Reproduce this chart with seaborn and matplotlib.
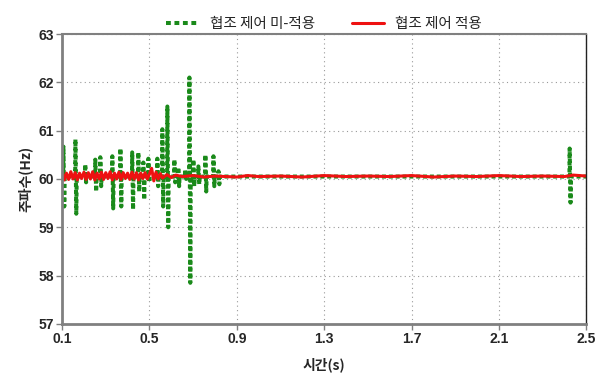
import numpy as np
import pandas as pd
import matplotlib
matplotlib.use("Agg")
import matplotlib.pyplot as plt
import seaborn as sns

# 협조 제어 미-적용: 진동 구간 (시간, 상단, 하단)
swing_t = [0.105, 0.16, 0.205, 0.251, 0.274, 0.329, 0.366, 0.42, 0.448, 0.471,
           0.494, 0.535, 0.558, 0.581, 0.613, 0.631, 0.663, 0.682, 0.70, 0.723,
           0.755, 0.792, 0.815, 2.423]
swing_hi = [60.67, 60.82, 60.30, 60.40, 60.45, 60.47, 60.63, 60.55, 60.55, 60.34,
            60.42, 60.42, 61.03, 61.50, 60.40, 60.24, 60.20, 62.10, 60.40, 60.26,
            60.50, 60.47, 60.16, 60.63]
swing_lo = [59.43, 59.28, 59.93, 59.74, 59.85, 59.39, 59.43, 59.37, 59.74, 59.57,
            59.93, 59.85, 59.43, 59.00, 59.93, 59.85, 60.00, 57.85, 59.85, 59.89,
            59.74, 59.85, 59.89, 59.51]

# 협조 제어 적용
red_t = [0.10, 0.11, 0.12, 0.13, 0.14, 0.15, 0.16, 0.17, 0.18, 0.19,
         0.20, 0.21, 0.22, 0.23, 0.24, 0.25, 0.26, 0.27, 0.28, 0.29,
         0.30, 0.31, 0.32, 0.33, 0.34, 0.35, 0.36, 0.37, 0.38, 0.39,
         0.40, 0.41, 0.42, 0.43, 0.44, 0.45, 0.46, 0.47, 0.48, 0.49,
         0.50, 0.51, 0.52, 0.53, 0.54, 0.55, 0.56, 0.58, 0.60, 0.62,
         0.65, 0.70, 0.75, 0.80, 0.85, 0.90, 0.95, 1.00, 1.10, 1.20,
         1.30, 1.40, 1.50, 1.60, 1.70, 1.80, 1.90, 2.00, 2.10, 2.20,
         2.30, 2.40, 2.44, 2.50]
red_f = [60.14, 59.98, 60.12, 59.99, 60.15, 60.00, 60.13, 59.98, 60.12, 60.01,
         60.14, 59.99, 60.13, 60.00, 60.15, 59.98, 60.12, 60.00, 60.14, 59.99,
         60.13, 60.01, 60.15, 59.98, 60.12, 60.00, 60.14, 59.99, 60.13, 60.01,
         60.12, 59.99, 60.14, 60.00, 60.13, 59.98, 60.12, 60.01, 60.13, 60.00,
         60.10, 60.22, 59.96, 60.14, 60.00, 60.11, 60.02, 60.09, 60.03, 60.08,
         60.05, 60.07, 60.04, 60.06, 60.05, 60.04, 60.07, 60.05, 60.06, 60.04,
         60.07, 60.05, 60.06, 60.05, 60.07, 60.04, 60.06, 60.05, 60.07, 60.05,
         60.06, 60.05, 60.08, 60.06]

x_ticks = [0.1, 0.5, 0.9, 1.3, 1.7, 2.1, 2.5]
y_ticks = [57, 58, 59, 60, 61, 62, 63]


def green_path():
    ts, fs = [0.1], [60.05]
    for t, hi, lo in zip(swing_t, swing_hi, swing_lo):
        ts += [t, t + 0.001, t + 0.005, t + 0.007]
        fs += [60.05, hi, lo, 60.05]
    ts.append(2.5)
    fs.append(60.05)
    return pd.DataFrame({"t": ts, "f": fs})


sns.set_style("white")
plt.rcParams["font.family"] = ["Noto Sans CJK KR", "DejaVu Sans"]

fig = plt.figure(figsize=(5.97, 3.74), dpi=100)
ax = fig.add_axes([0.104, 0.134, 0.878, 0.775])

green = green_path()
red = pd.DataFrame({"t": red_t, "f": red_f})

sns.lineplot(x="t", y="f", data=green, ax=ax, color="#1a8a1a", lw=2.9,
             linestyle=(0, (1, 0.7)), label="협조 제어 미-적용", sort=False,
             estimator=None, errorbar=None)
sns.lineplot(x="t", y="f", data=red, ax=ax, color="#ee1111", lw=2.2,
             label="협조 제어 적용", sort=False, estimator=None, errorbar=None)

ax.set_xlim(0.1, 2.5)
ax.set_ylim(57, 63)
ax.set_xticks(x_ticks)
ax.set_yticks(y_ticks)
ax.set_xticklabels([str(v) for v in x_ticks], family="Liberation Sans",
                   fontweight="bold", fontsize=10)
ax.set_yticklabels([str(v) for v in y_ticks], family="Liberation Sans",
                   fontweight="bold", fontsize=10)
ax.grid(True, color="#999999", linestyle=(0, (1, 3)), lw=0.8)
ax.tick_params(axis="both", direction="out", length=4, width=1, color="#808080",
               pad=2, left=True, bottom=True)

for side in ["left", "bottom", "top"]:
    ax.spines[side].set_color("#808080")
ax.spines["left"].set_linewidth(2)
ax.spines["bottom"].set_linewidth(2)
ax.spines["top"].set_linewidth(1.5)
ax.spines["right"].set_color("#222222")
ax.spines["right"].set_linewidth(1)

ax.set_xlabel("시간(s)", fontweight="bold", fontsize=10, labelpad=8)
ax.set_ylabel("주파수(Hz)", fontweight="bold", fontsize=10, labelpad=4)

leg = ax.legend(loc="lower center", bbox_to_anchor=(0.5, 0.99), ncol=2,
                frameon=False,
                prop={"family": ["Noto Sans CJK KR"], "size": 10.5,
                      "weight": "medium"},
                handlelength=2.2, columnspacing=2.5, borderaxespad=0)
leg.get_lines()[0].set_linestyle((0, (1.2, 0.9)))

fig.savefig("out.png", dpi=100)
